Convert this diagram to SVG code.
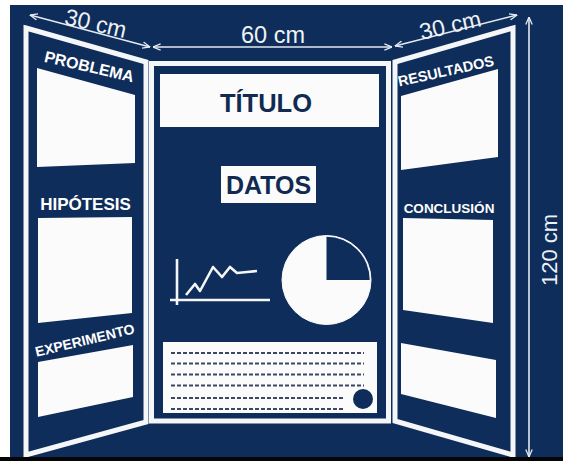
<svg xmlns="http://www.w3.org/2000/svg" width="563" height="461" viewBox="0 0 563 461">
<defs>
<style>
.bg{fill:#0f2d5a}
.panel{fill:#0f2d5a;stroke:#f4f6f8;stroke-width:5;stroke-linejoin:miter}
.box{fill:#fbfbfb}
.lbl{font-family:"Liberation Sans",Arial,sans-serif;font-weight:bold;fill:#ffffff}
.hdr{font-family:"Liberation Sans",Arial,sans-serif;font-weight:bold;fill:#102a52;text-anchor:middle}
.dim{font-family:"Liberation Sans",Arial,sans-serif;fill:#eef2f6;text-anchor:middle}
.dl{fill:none;stroke:#e4eaf1;stroke-width:1.6}
.dash{stroke:#3b4763;stroke-width:2;stroke-dasharray:4 2}
</style>
<marker id="ah" viewBox="0 0 10 10" refX="9.5" refY="5" markerWidth="8" markerHeight="8" orient="auto-start-reverse" markerUnits="userSpaceOnUse">
<path d="M0,1 L9.5,5 L0,9" fill="none" stroke="#e4eaf1" stroke-width="1.6"/>
</marker>
</defs>

<rect x="0" y="0" width="563" height="461" fill="#ffffff"/>
<rect class="bg" x="10" y="5" width="553" height="456"/>

<g id="panel-left">
<polygon class="panel" points="26,28 146,62 146,422 26,455"/>
<text class="lbl" font-size="16" text-anchor="middle" transform="translate(88,72) rotate(13)">PROBLEMA</text>
<polygon class="box" points="37,68 135,95 135,163 37,167"/>
<text class="lbl" font-size="17" text-anchor="middle" x="85.5" y="210">HIPÓTESIS</text>
<polygon class="box" points="38,218 132,217 132,313 38,323"/>
<text class="lbl" font-size="14" text-anchor="middle" transform="translate(86,345) rotate(-13.5)">EXPERIMENTO</text>
<polygon class="box" points="38,362 133,345 133,397 38,417"/>
</g>

<g id="panel-center">
<rect class="panel" x="151.5" y="63.5" width="237" height="357.5" stroke-width="4.5"/>
<g id="title">
<rect class="box" x="160" y="74" width="219" height="53"/>
<text class="hdr" font-size="25.5" x="266" y="112">TÍTULO</text>
</g>
<g id="datos">
<rect class="box" x="221" y="166" width="95" height="37"/>
<text class="hdr" font-size="25" x="268.5" y="194">DATOS</text>
</g>
<g id="line-chart" fill="none" stroke="#f4f6f8" stroke-width="2.6" stroke-linejoin="round">
<line x1="177" y1="259" x2="177" y2="305"/>
<line x1="170" y1="300" x2="270" y2="300"/>
<polyline points="186,295 195,284 200,291 213,267 222,277 230,267 237,273 247,272 257,271"/>
</g>
<g id="pie-chart">
<circle cx="326.5" cy="280" r="44.5" fill="#fbfbfb" stroke="#fbfbfb" stroke-width="1"/>
<path d="M326.5,280 L326.5,236.8 A43.2,43.2 0 0 1 369.7,280 Z" fill="#0f2d5a"/>
</g>
<g id="text-block">
<rect class="box" x="163" y="342" width="214" height="71"/>
<g class="dash">
<line x1="171" y1="353" x2="364" y2="353"/>
<line x1="171" y1="363.5" x2="364" y2="363.5"/>
<line x1="171" y1="374.5" x2="364" y2="374.5"/>
<line x1="171" y1="385.5" x2="364" y2="385.5"/>
<line x1="171" y1="398" x2="343" y2="398"/>
<line x1="171" y1="409" x2="343" y2="409"/>
</g>
<circle cx="363" cy="399" r="10" fill="#0f2d5a"/>
</g>
</g>

<g id="panel-right">
<polygon class="panel" points="395,62 513,28 513,455 395,421"/>
<text class="lbl" font-size="14.5" text-anchor="middle" transform="translate(447,76) rotate(-12.5)">RESULTADOS</text>
<polygon class="box" points="401,96 498,69 498,157 401,170"/>
<text class="lbl" font-size="13.5" text-anchor="middle" x="449" y="213">CONCLUSIÓN</text>
<polygon class="box" points="403,218 493,220 493,323 403,310"/>
<polygon class="box" points="401,343 496,360 496,418 401,394"/>
</g>

<g id="connectors">
<line class="dl" x1="30" y1="15" x2="150" y2="47" marker-start="url(#ah)" marker-end="url(#ah)"/>
<line class="dl" x1="153" y1="47" x2="392" y2="47" marker-start="url(#ah)" marker-end="url(#ah)"/>
<line class="dl" x1="395" y1="46" x2="517" y2="15" marker-start="url(#ah)" marker-end="url(#ah)"/>
<line class="dl" x1="529" y1="17" x2="529" y2="457" marker-start="url(#ah)" marker-end="url(#ah)"/>
</g>

<g id="dimension-labels">
<text class="dim" font-size="23" transform="translate(94,31) rotate(13)">30 cm</text>
<text class="dim" font-size="23.5" x="273" y="43">60 cm</text>
<text class="dim" font-size="23" transform="translate(452,33) rotate(-13)">30 cm</text>
<text class="dim" font-size="22" transform="translate(557,250) rotate(-90)">120 cm</text>
</g>

<rect x="0" y="457" width="563" height="4" fill="#050505"/>
<rect x="0" y="0" width="10" height="457" fill="#ffffff"/>
</svg>
